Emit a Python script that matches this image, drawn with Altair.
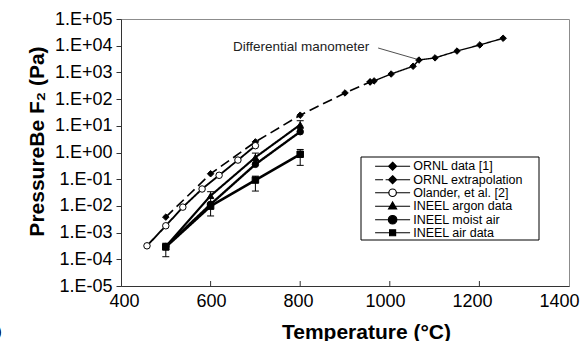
import altair as alt
import pandas as pd

series_names = ["ORNL data [1]", "ORNL extrapolation", "Olander, et al. [2]",
                "INEEL argon data", "INEEL moist air", "INEEL air data"]

ornl_T = [956, 965, 1003, 1052, 1065, 1101, 1150, 1201, 1253]
ornl_P = [440, 480, 870, 1700, 2900, 3500, 6300, 10700, 19000]

extrap_T = [500, 600, 700, 800, 900, 956]
extrap_P = [0.0038, 0.16, 2.5, 25, 170, 440]

olander_T = [458, 500, 538, 581, 619, 661, 700]
olander_P = [3.2e-4, 1.8e-3, 9.0e-3, 0.043, 0.14, 0.52, 1.8]

argon_T = [500, 600, 700, 800]
argon_P = [3.0e-4, 0.024, 0.66, 11.0]

moist_T = [500, 600, 700, 800]
moist_P = [3.0e-4, 0.0115, 0.36, 6.0]

air_T = [500, 600, 700, 800]
air_P = [2.9e-4, 0.0098, 0.093, 0.86]

# error bars
eb_T = [500, 600, 700, 800, 700, 800]
eb_lo = [1.25e-4, 0.0042, 0.036, 0.33, 0.5, 8.0]
eb_hi = [4.0e-4, 0.034, 0.13, 1.3, 0.95, 15.5]

x_tick_values = [400, 600, 800, 1000, 1200, 1400]
x_inner_ticks = [600, 800, 1000, 1200]
y_tick_values = [1e-5, 1e-4, 1e-3, 1e-2, 1e-1, 1e0, 1e1, 1e2, 1e3, 1e4, 1e5]

annot_text = ["Differential manometer"]
annot_T = [650]
annot_P = [8.9e3]
arrow_T = [974]
arrow_P = [8.2e3]
arrow_T2 = [1061]
arrow_P2 = [3.1e3]

panel_label = ["(a)"]

# ---------------------------------------------------------------
all_T = [ornl_T, extrap_T, olander_T, argon_T, moist_T, air_T]
all_P = [ornl_P, extrap_P, olander_P, argon_P, moist_P, air_P]
rows = []
for name, Ts, Ps in zip(series_names, all_T, all_P):
    for t, p in zip(Ts, Ps):
        rows.append({"series": name, "T": t, "P": p})
df = pd.DataFrame(rows)

eb_df = pd.DataFrame({"T": eb_T, "lo": eb_lo, "hi": eb_hi})

FONT = "Liberation Sans"

x_scale = alt.Scale(domain=[400, 1400], nice=False, zero=False)
y_scale = alt.Scale(type="log", domain=[1e-5, 1e5], nice=False)

x_axis = alt.Axis(values=x_tick_values, ticks=False, labelFontSize=18, labelPadding=6,
                  labelFlush=False, format="d", title="Temperature (°C)",
                  labelOffset={"condition": {"test": "datum.value < 450", "value": 3},
                               "expr": "3 - (datum.value - 400) * 0.013"},
                  titleFontSize=21, titleFontWeight="bold", titleX=245, titleY=52,
                  titleBaseline="alphabetic")
y_axis = alt.Axis(values=y_tick_values, tickSize=5, labelFontSize=18, labelPadding=4,
                  labelExpr="'1.E' + (datum.value >= 1 ? '+' : '-') + '0' + abs(round(log(datum.value)/LN10))",
                  title="PressureBe F₂ (Pa)", titleFontSize=21, titleFontWeight="bold",
                  titleX=-78, titleY=122, titleBaseline="alphabetic", titleAngle=270)

X = alt.X("T:Q", scale=x_scale, axis=x_axis)
Y = alt.Y("P:Q", scale=y_scale, axis=y_axis)

dash_range = [[1, 0], [10, 5], [1, 0], [1, 0], [1, 0], [1, 0]]
width_range = [1.4, 2.6, 1.2, 1.2, 1.2, 1.2]
shape_range = ["diamond", "diamond", "circle", "triangle-up", "circle", "square"]
fill_range = ["black", "black", "white", "black", "black", "black"]
stroke_range = ["black"] * 6
size_range = [42, 42, 55, 50, 50, 42]

lines = alt.Chart(df).mark_line(color="black").encode(
    x=X, y=Y, detail="series:N", order="T:Q",
    strokeDash=alt.StrokeDash("series:N", scale=alt.Scale(domain=series_names, range=dash_range), legend=None),
    strokeWidth=alt.StrokeWidth("series:N", scale=alt.Scale(domain=series_names, range=width_range), legend=None),
)

err_rule = alt.Chart(eb_df).mark_rule(color="black", strokeWidth=1).encode(
    x=alt.X("T:Q", scale=x_scale, axis=x_axis),
    y=alt.Y("lo:Q", scale=y_scale, axis=y_axis), y2="hi:Q")
err_lo = alt.Chart(eb_df).mark_tick(color="black", orient="horizontal", size=7, thickness=1, opacity=1).encode(
    x=alt.X("T:Q", scale=x_scale, axis=x_axis),
    y=alt.Y("lo:Q", scale=y_scale, axis=y_axis))
err_hi = alt.Chart(eb_df).mark_tick(color="black", orient="horizontal", size=7, thickness=1, opacity=1).encode(
    x=alt.X("T:Q", scale=x_scale, axis=x_axis),
    y=alt.Y("hi:Q", scale=y_scale, axis=y_axis))

points = alt.Chart(df).mark_point(filled=True, stroke="black", strokeWidth=1, opacity=1).encode(
    x=X, y=Y,
    shape=alt.Shape("series:N", scale=alt.Scale(domain=series_names, range=shape_range), legend=None),
    fill=alt.Fill("series:N", scale=alt.Scale(domain=series_names, range=fill_range), legend=None),
    size=alt.Size("series:N", scale=alt.Scale(domain=series_names, range=size_range), legend=None),
)

# legend frame (decoration drawn under the legend, which itself has no frame)
legend_box = alt.Chart(pd.DataFrame({"k": [0]})).mark_rect(
    fill="white", stroke="black", strokeWidth=1).encode(
    x=alt.value(240), x2=alt.value(418), y=alt.value(138), y2=alt.value(221))

# legend symbols: path units are 5 px (symbolSize 100); marker drawn 7.47 units right of the symbol anchor.
legend_paths = [
    "M3.97,0L10.97,0M7.47,-0.8L8.27,0L7.47,0.8L6.67,0Z",
    "M3.97,0L5.57,0M6.07,0L6.97,0M7.87,0L10.97,0M7.47,-0.8L8.27,0L7.47,0.8L6.67,0Z",
    "M3.97,0L6.72,0M8.22,0L10.97,0M6.72,0A0.75,0.75,0,1,1,8.22,0A0.75,0.75,0,1,1,6.72,0Z",
    "M3.97,0L10.97,0M7.47,-0.85L8.27,0.55L6.67,0.55Z",
    "M3.97,0L10.97,0M6.62,0A0.85,0.85,0,1,1,8.32,0A0.85,0.85,0,1,1,6.62,0Z",
    "M3.97,0L10.97,0M6.87,-0.6L8.07,-0.6L8.07,0.6L6.87,0.6Z",
]
leg = alt.Legend(title=None, orient="none", legendX=240, legendY=138, symbolSize=100,
                 labelFontSize=12.5, labelFont=FONT, labelColor="black", labelOffset=51.7,
                 padding=3, rowPadding=-0.5,
                 symbolStrokeColor="black", symbolStrokeWidth=1.2, symbolOffset=-15,
                 labelLimit=400)
legend_layer = alt.Chart(df).transform_filter("false").mark_point(
    filled=True, strokeWidth=1.2, opacity=1).encode(
    x=X, y=Y,
    shape=alt.Shape("series:N", scale=alt.Scale(domain=series_names, range=legend_paths), legend=leg),
    fill=alt.Fill("series:N", scale=alt.Scale(domain=series_names, range=fill_range), legend=leg),
    stroke=alt.Stroke("series:N", scale=alt.Scale(domain=series_names, range=stroke_range), legend=leg),
)

annot_df = pd.DataFrame({"text": annot_text, "T": annot_T, "P": annot_P})
annot = alt.Chart(annot_df).mark_text(align="left", baseline="middle", fontSize=13.5,
                                      font=FONT, color="#222").encode(x=X, y=Y, text="text:N")
arrow_df = pd.DataFrame({"T": arrow_T, "P": arrow_P, "T2": arrow_T2, "P2": arrow_P2})
arrow = alt.Chart(arrow_df).mark_rule(color="#222", strokeWidth=0.8).encode(
    x=X, y=Y, x2="T2:Q", y2="P2:Q")

inner_ticks = alt.Chart(pd.DataFrame({"T": x_inner_ticks})).mark_rule(color="#333", strokeWidth=1).encode(
    x=X, y=alt.value(267), y2=alt.value(262))

panel = alt.Chart(pd.DataFrame({"t": panel_label})).mark_text(
    align="right", baseline="alphabetic", fontSize=17, font=FONT, color="black").encode(
    text="t:N", x=alt.value(-119), y=alt.value(318))

chart = alt.layer(lines, err_rule, err_lo, err_hi, points, legend_box, legend_layer, annot, arrow,
                  inner_ticks, panel).resolve_scale(
    shape="independent", fill="independent", size="independent", stroke="independent"
).properties(
    width=448, height=267,
    padding={"left": 121, "top": 19, "right": 14, "bottom": 55},
    autosize=alt.AutoSizeParams(type="none"),
).configure_view(stroke="#8c8c8c", strokeWidth=1).configure_axis(
    grid=False, domainColor="#333", tickColor="#333", labelColor="black", titleColor="black",
    labelFont=FONT, titleFont=FONT
)

chart.save("out.html", embed_options={"renderer": "svg", "actions": False})
